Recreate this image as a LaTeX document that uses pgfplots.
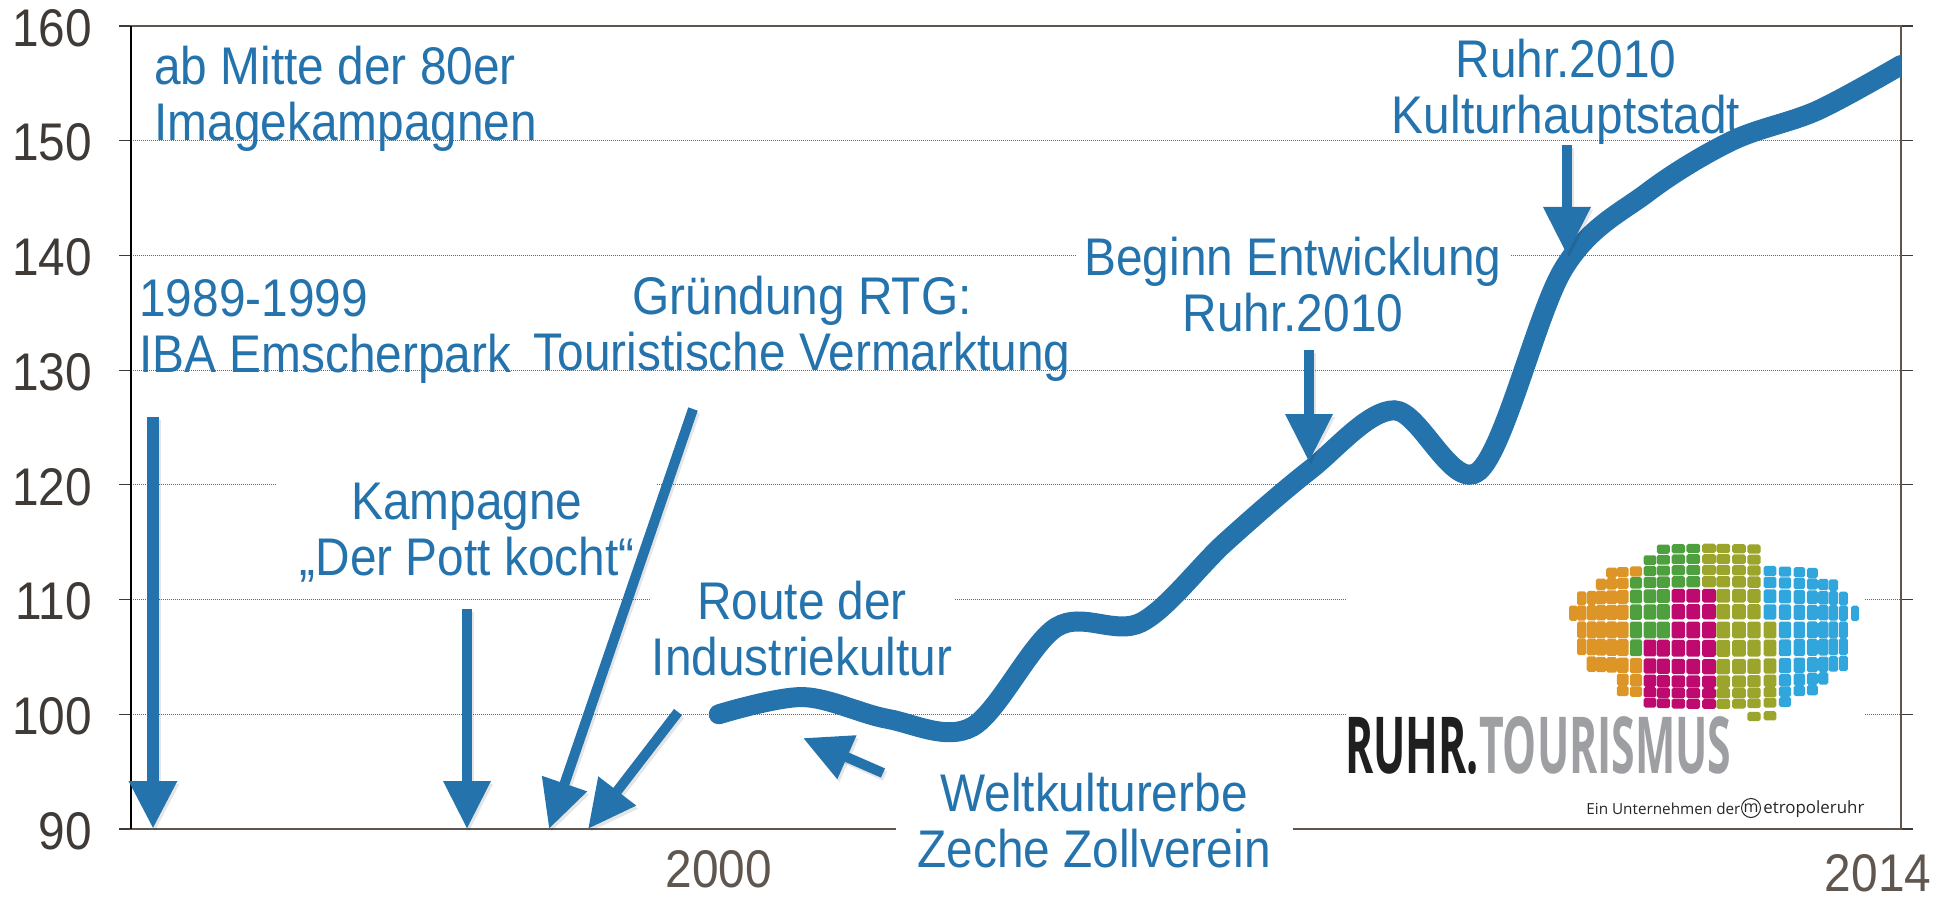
\documentclass[border=0pt]{standalone}
\usepackage{fontspec}
\usepackage{graphicx}
\setmainfont[FakeStretch=0.902]{Liberation Sans}
\newfontfamily\logofont{Open Sans}
\usepackage{pgfplots}
\pgfplotsset{compat=1.18}
\usetikzlibrary{arrows.meta}
\definecolor{tblue}{HTML}{2473AD}
\definecolor{axisbrown}{HTML}{5F574F}
\definecolor{ticktxt}{HTML}{3F3A36}
\definecolor{lorange}{HTML}{DE9527}
\definecolor{lgreen}{HTML}{4E9F3D}
\definecolor{lmag}{HTML}{BE0A6E}
\definecolor{lolive}{HTML}{9BA42B}
\definecolor{lblue}{HTML}{30A6DC}
\definecolor{lgray}{HTML}{9D9FA2}
\pgfplotstableread{
year value
2000 100.0
2001 101.5
2002 99.6
2003 98.9
2004 107.6
2005 108.0
2006 115.0
2007 121.3
2008 126.5
2009 121.2
2010 138.8
2011 145.5
2012 150.0
2013 152.6
2014 156.6
}\tourism
\newcommand{\blue}[4][]{\node[text=tblue,align=center,inner sep=0pt,font=\fontsize{26.5}{28}\selectfont,#1] at (#2,#3) {#4};}
\newcommand{\barrow}[5]{%
  \draw[line width=#5*0.5pt,black,opacity=0.10,-{Triangle[width=22.5pt,length=24pt]}] (#1+2,#2+3) -- (#3+2,#4+3);
  \draw[line width=#5*0.5pt,tblue,-{Triangle[width=22.5pt,length=24pt]}] (#1,#2) -- (#3,#4);}
% geometry of the logo's grid of tiles
\def\colX{{70,95,125,153,185,218,258,300,340,385,430,477,520,567,612,660,705,748,787,820,850,880,915}}
\def\rowY{{55,87,120,155,197,245,300,355,410,455,490,522,562}}
\def\rowH{{30,32,33,37,45,50,55,55,50,40,34,32,30}}
\def\rowFirst{{8,7,4,3,1,0,1,1,2,5,5,7,14}}
\def\rowLast{{14,14,18,20,21,22,21,21,21,19,18,16,15}}
\begin{document}
\begin{tikzpicture}
\path[use as bounding box] (-65.5pt,-36pt) rectangle (908.5pt,414.5pt);
\begin{axis}[
  scale only axis, width=885pt, height=401.5pt,
  xmin=1993.04, xmax=2014, ymin=90, ymax=160,
  ytick={90,100,...,160},
  xtick={2000}, xticklabels={2000},
  extra x ticks={2014}, extra x tick labels={2014},
  extra x tick style={xticklabel style={xshift=-11.5pt,yshift=-2pt}},
  /pgf/number format/assume math mode=true,
  /pgf/number format/1000 sep={},
  axis line style={draw=axisbrown,line width=1.3pt},
  ymajorgrids,
  major grid style={draw=black!60,line width=0.5pt,dash pattern=on 0.5pt off 0.5pt},
  ytick style={draw=ticktxt,line width=0.6pt},
  xtick style={draw=none},
  tick align=outside, major tick length=6pt,
  yticklabel style={font=\fontsize{26.5}{28}\selectfont,text=ticktxt,xshift=-10pt,yshift=-1pt},
  xticklabel style={font=\fontsize{26.5}{28}\selectfont,text=axisbrown,yshift=-1pt},
  clip=true,
]
\addplot[tblue,line width=10pt,smooth,tension=0.55,line cap=round] table[x=year,y=value] {\tourism};
\end{axis}
\begin{scope}[x=0.5pt,y=-0.5pt,shift={(-65.5pt,414.5pt)}]
  \draw[black,line width=0.7pt] (131,26) -- (131,829);
  \fill[white] (277,470) rectangle (657,500);
  \fill[white] (650,590) rectangle (955,610);
  \fill[white] (1077,245) rectangle (1511,265);
  \fill[white] (1347,590) rectangle (1864,610);
  \fill[white] (1347,705) rectangle (1864,725);
  \fill[white] (896,820) rectangle (1293,838);
  \barrow{153}{417}{153}{829}{12}
  \barrow{467}{609}{467}{829}{10}
  \barrow{693}{409}{549}{829}{10}
  \barrow{678}{712}{588}{829}{10}
  \barrow{883}{773}{803}{738}{10}
  \barrow{1309}{350}{1309}{462}{10}
  \barrow{1567}{145}{1567}{255}{10}
  \blue[anchor=west,align=left]{154}{99}{ab Mitte der 80er\\Imagekampagnen}
  \blue[anchor=west,align=left]{139}{331}{1989-1999\\IBA Emscherpark}
  \blue{802}{329}{Gründung RTG:\\Touristische Vermarktung}
  \blue{467}{533}{Kampagne\\„Der Pott kocht“}
  \blue{802}{629}{Route der\\Industriekultur}
  \blue{1094}{821}{Weltkulturerbe\\Zeche Zollverein}
  \blue{1293}{285}{Beginn Entwicklung\\Ruhr.2010}
  \blue{1566}{92}{Ruhr.2010\\Kulturhauptstadt}
  % logo globe
  \foreach \rI in {0,...,12}{
    \pgfmathtruncatemacro{\cFirst}{\rowFirst[\rI]}
    \pgfmathtruncatemacro{\cLast}{\rowLast[\rI]}
    \pgfmathsetmacro{\yc}{\rowY[\rI]}
    \pgfmathsetmacro{\hh}{\rowH[\rI]*0.46/3}
    \foreach \cI in {\cFirst,...,\cLast}{
      \pgfmathsetmacro{\zx}{\colX[\cI]}
      \pgfmathsetmacro{\nx}{(\zx-480)/410}
      \pgfmathsetmacro{\wx}{(45-17*\nx*\nx)*0.46/3}
      \pgfmathsetmacro{\px}{1550+\zx/3}
      \pgfmathsetmacro{\py}{530+(295+(\yc-295)*(1-0.09*\nx*\nx))/3}
      \pgfmathtruncatemacro{\region}{%
        \cI<=5 ? 1 :
        (\cI==6 ? ((\rI<=2 || \rI>=8) ? 1 : 2) :
        (\cI<=8 ? (\rI>=7 ? 3 : 2) :
        (\cI<=10 ? (\rI>=4 ? 3 : 2) :
        (\cI==11 ? (\rI>=4 ? 3 : 4) :
        (\cI<=14 ? 4 :
        (\cI==15 ? (\rI>=6 ? 4 : 5) : 5))))))}
      \ifcase\region\or\def\cc{lorange}\or\def\cc{lgreen}\or\def\cc{lmag}\or\def\cc{lolive}\or\def\cc{lblue}\fi
      \fill[\cc,rounded corners=0.9pt] (\px-\wx,\py-\hh) rectangle (\px+\wx,\py+\hh);
    }
  }
  % logo wordmark
  \node[anchor=north west,inner sep=0pt] at (1345,716) {\resizebox{193pt}{28.5pt}{\logofont\bfseries\textcolor{black!88}{RUHR.}\textcolor{lgray}{TOURISMUS}}};
  \node[anchor=west,inner sep=0pt] at (1586,809) {\resizebox{77pt}{!}{\logofont\fontsize{9}{10}\selectfont\textcolor{black!85}{Ein Unternehmen der}}};
  \node[draw=black!85,circle,line width=0.5pt,inner sep=0pt,minimum size=9.5pt,text=black!85,font=\logofont\fontsize{8}{9}\selectfont] at (1751,808) {m};
  \node[anchor=west,inner sep=0pt] at (1763,809) {\resizebox{50.5pt}{!}{\logofont\fontsize{9}{10}\selectfont\textcolor{black!85}{etropoleruhr}}};
\end{scope}
\end{tikzpicture}
\end{document}
